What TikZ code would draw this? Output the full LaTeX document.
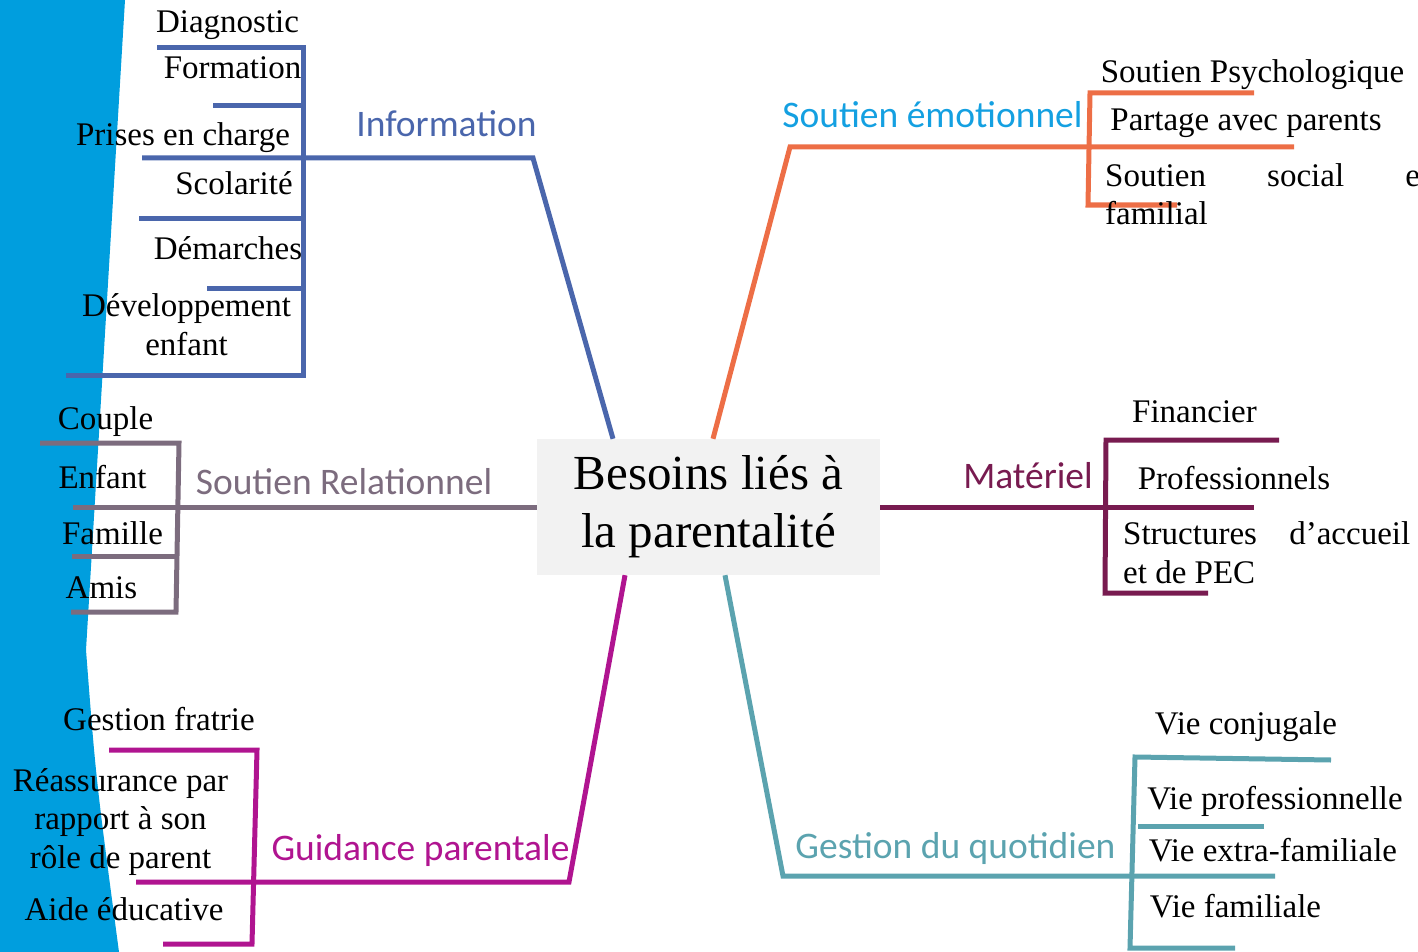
\documentclass[tikz,border=0pt]{standalone}
\usepackage{fontspec}
\setmainfont{Liberation Serif}
\newfontfamily\calibri{Carlito}
\definecolor{Cfond}{RGB}{0,158,222}
\definecolor{Cbox}{RGB}{242,242,242}
\definecolor{Cinfo}{RGB}{74,102,172}
\definecolor{Cemo}{RGB}{237,110,70}
\definecolor{Cemotxt}{RGB}{20,160,225}
\definecolor{Cmat}{RGB}{120,27,80}
\definecolor{Cgest}{RGB}{91,163,175}
\definecolor{Cguid}{RGB}{176,20,144}
\definecolor{Crel}{RGB}{124,108,126}
\begin{document}
\begin{tikzpicture}[x=1pt,y=-1pt,
    leaf/.style={inner sep=0pt,anchor=base,align=center,font=\fontsize{33}{38.5}\selectfont},
    theme/.style={inner sep=0pt,anchor=base,font=\calibri\fontsize{37.5}{44}\selectfont},
    branch/.style={line width=5pt,line join=miter}]
        \useasboundingbox (0,0) rectangle (1418,952);
        \clip (0,0) rectangle (1418,952);
        \fill[Cfond] (0,0) -- (125,0) -- (86,650) .. controls (96,780) .. (119,952) -- (0,952) -- cycle;

        % centre
        \node[fill=Cbox,minimum width=343pt,minimum height=136pt,inner sep=0pt,align=center,
              font=\fontsize{49}{58}\selectfont] (besoins) at (708.5,507) {Besoins liés à\\la parentalité};

        \coordinate (infoR) at ([xshift=-95.5pt]besoins.north);
        \coordinate (emoR) at ([xshift=4.5pt]besoins.north);
        \coordinate (guidR) at ([xshift=-83.5pt]besoins.south);
        \coordinate (gestR) at ([xshift=16.5pt]besoins.south);
        \coordinate (infoK) at (533,158);
        \coordinate (infoE) at (142,158);
        \coordinate (emoK) at (790,147);
        \coordinate (emoE) at (1294,147);
        \coordinate (relE) at (73,507);
        \coordinate (matE) at (1254,507);
        \coordinate (guidK) at (569,882);
        \coordinate (guidE) at (136,882);
        \coordinate (gestK) at (783,876);
        \coordinate (gestE) at (1275,876);

        \draw[branch,Cinfo] (infoR) -- (infoK) -- (infoE);
        \draw[branch,Cemo] (emoR) -- (emoK) -- (emoE);
        \draw[branch,Crel] (besoins.west) -- (relE);
        \draw[branch,Cmat] (besoins.east) -- (matE);
        \draw[branch,Cguid] (guidR) -- (guidK) -- (guidE);
        \draw[branch,Cgest] (gestR) -- (gestK) -- (gestE);

        % Information
        \draw[branch,Cinfo] (157,48) -- (303,48) -- (303,375) -- (66,375);
        \draw[branch,Cinfo] (213,106) -- (303,106);
        \draw[branch,Cinfo] (139,218) -- (303,218);
        \draw[branch,Cinfo] (207,288) -- (303,288);
        \node[theme,Cinfo] (information) at (446.5,137) {Information};
        \node[leaf] (diagnostic) at (227.5,33) {Diagnostic};
        \node[leaf] (formation) at (232.5,79) {Formation};
        \node[leaf] (prises) at (183,146) {Prises en charge};
        \node[leaf] (scolarite) at (234,195) {Scolarité};
        \node[leaf] (demarches) at (228,259) {Démarches};
        \node[leaf] (developpement) at (186.5,355) {Développement\\enfant};

        % Soutien Relationnel
        \draw[branch,Crel] (40,443) -- (179,443) -- (176,612) -- (71,612);
        \draw[branch,Crel] (72,556) -- (177,556);
        \node[theme,Crel] (relationnel) at (344,494) {Soutien Relationnel};
        \node[leaf] (couple) at (105.5,429) {Couple};
        \node[leaf] (enfant) at (102.5,488) {Enfant};
        \node[leaf] (famille) at (112.5,544) {Famille};
        \node[leaf] (amis) at (101.5,598) {Amis};

        % Guidance parentale
        \draw[branch,Cguid] (109,750) -- (257,750) -- (252,944) -- (163,944);
        \node[theme,Cguid] (guidance) at (420.5,860) {Guidance parentale};
        \node[leaf] (fratrie) at (159,730) {Gestion fratrie};
        \node[leaf] (reassurance) at (120.5,868) {Réassurance par\\rapport à son\\rôle de parent};
        \node[leaf] (aide) at (124,920) {Aide éducative};

        % Soutien emotionnel
        \draw[branch,Cemo] (1254,93) -- (1090,93) -- (1088,205) -- (1177,205);
        \node[theme,Cemotxt] (emotionnel) at (932.5,128) {Soutien émotionnel};
        \node[leaf] (psycho) at (1252.5,83) {Soutien Psychologique};
        \node[leaf] (partage) at (1246,131) {Partage avec parents};
        \node[leaf,anchor=base west,align=left] (social) at (1105,225)
             {\hbox to 324pt{Soutien\hfil social\hfil et}\\familial};

        % Materiel
        \draw[branch,Cmat] (1279,440) -- (1106,440) -- (1105,593) -- (1208,593);
        \node[theme,Cmat] (materiel) at (1028,488) {Matériel};
        \node[leaf] (financier) at (1194.5,422) {Financier};
        \node[leaf] (professionnels) at (1234,489) {Professionnels};
        \node[leaf,anchor=base west,align=left] (structures) at (1123,583)
             {\hbox to 287pt{Structures\hfil d’accueil}\\et de PEC};

        % Gestion du quotidien
        \draw[branch,Cgest] (1331,760) -- (1135,757) -- (1130,948) -- (1235,948);
        \draw[branch,Cgest] (1138,826) -- (1264,826);
        \node[theme,Cgest] (quotidien) at (955.5,858) {Gestion du quotidien};
        \node[leaf] (conjugale) at (1246,734) {Vie conjugale};
        \node[leaf] (pro) at (1275,809) {Vie professionnelle};
        \node[leaf] (extra) at (1273,861) {Vie extra-familiale};
        \node[leaf] (familiale) at (1235.5,917) {Vie familiale};
\end{tikzpicture}
\end{document}
